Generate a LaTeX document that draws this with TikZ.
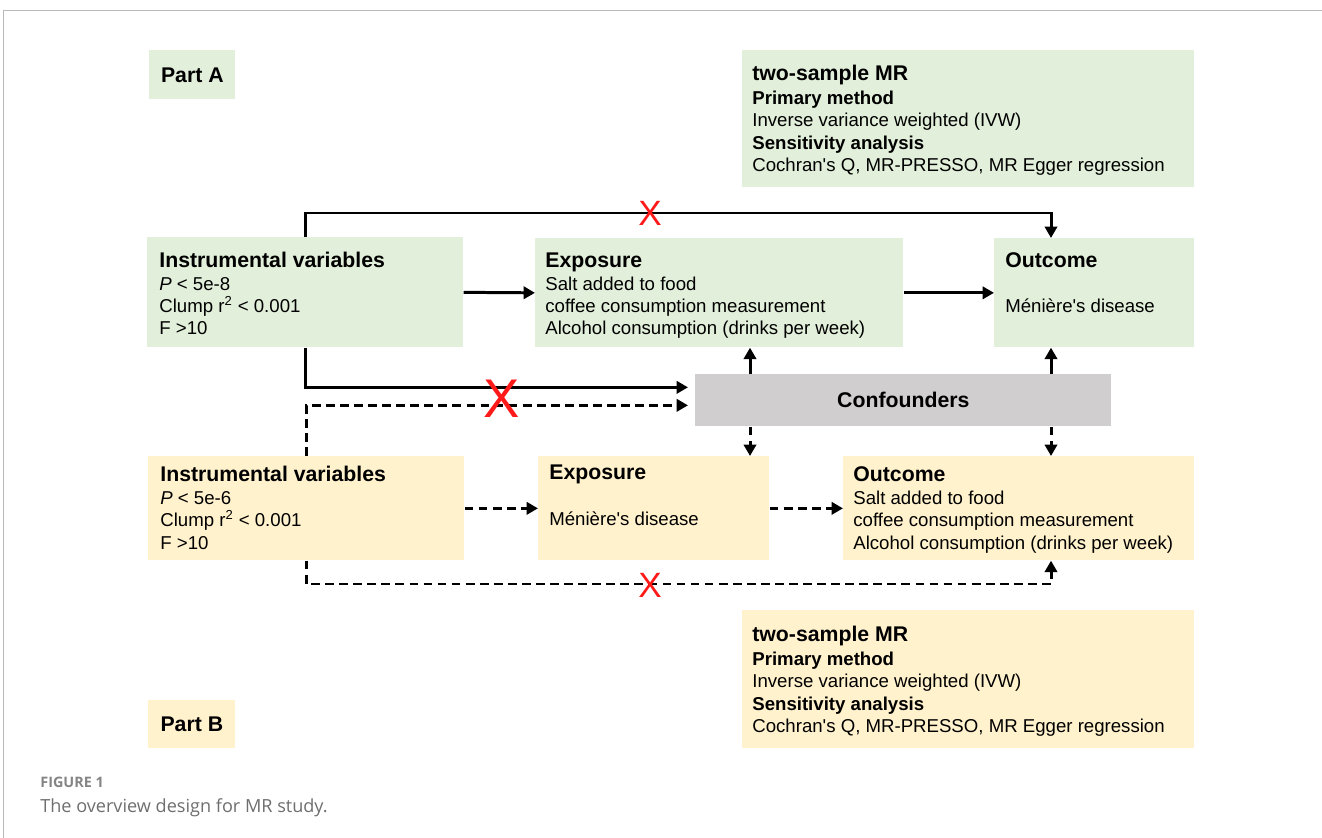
\documentclass[tikz,border=0pt]{standalone}
\usepackage{fontspec}
\setmainfont{Liberation Sans}[Ligatures=TeXOff]
\newfontfamily\captionfont{Open Sans}
\usetikzlibrary{arrows.meta,positioning}

\definecolor{partgreen}{HTML}{E2EFDA}
\definecolor{partyellow}{HTML}{FFF2CC}
\definecolor{confgray}{HTML}{D0CECE}
\definecolor{crossred}{HTML}{FF1A1A}
\definecolor{capgray}{HTML}{6E6E6E}

\tikzset{
  panel/.style={draw=none, inner sep=0pt, anchor=north west},
  greenpanel/.style={panel, fill=partgreen},
  yellowpanel/.style={panel, fill=partyellow},
  boxtitle/.style={anchor=base west, inner sep=0pt, font=\fontsize{12.1}{14}\selectfont\bfseries},
  boxhead/.style={anchor=base west, inner sep=0pt, font=\fontsize{10.6}{12.7}\selectfont\bfseries},
  boxline/.style={anchor=base west, inner sep=0pt, font=\fontsize{10.6}{12.7}\selectfont},
  link/.style={line width=1.7pt, -{Triangle[length=6.5pt,width=7pt]}},
  dashlink/.style={link, dash pattern=on 5pt off 3pt},
  cross/.style={inner sep=0pt, text=crossred}
}

\begin{document}
\begin{tikzpicture}[x=0.02cm, y=-0.02cm]
    \useasboundingbox (0,0) rectangle (1322,838);
    % page frame
    \draw[gray!55, line width=0.8pt] (3.5,838) -- (3.5,10.5) -- (1322,10.5);

    % part A
    \node[greenpanel, minimum width=1.72cm, minimum height=0.98cm,
      font=\fontsize{12.1}{14}\selectfont\bfseries] (partA) at (149,50) {Part A};
    \node[greenpanel, minimum width=9.04cm, minimum height=2.74cm] (mrA) at (742,50) {};
    \node[boxtitle] (mrAt) at (752,81) {two-sample MR};
    \node[boxhead] (mrAa) at (752,105) {Primary method};
    \node[boxline] (mrAb) at (752,127) {Inverse variance weighted (IVW)};
    \node[boxhead] (mrAc) at (752,150) {Sensitivity analysis};
    \node[boxline] (mrAd) at (752,172) {Cochran's Q, MR-PRESSO, MR Egger regression};

    \node[greenpanel, minimum width=6.32cm, minimum height=2.20cm] (ivA) at (147,237) {};
    \node[boxtitle] (ivAt) at (159,267) {Instrumental variables};
    \node[boxline] (ivAa) at (159,290) {\textit{P} < 5e-8};
    \node[boxline] (ivAb) at (159,312) {Clump r\textsuperscript{2} < 0.001};
    \node[boxline] (ivAc) at (159,334) {F >10};

    \node[greenpanel, minimum width=7.36cm, minimum height=2.18cm] (expA) at (535,238) {};
    \node[boxtitle] (expAt) at (545,267) {Exposure};
    \node[boxline] (expAa) at (545,290) {Salt added to food};
    \node[boxline] (expAb) at (545,312) {coffee consumption measurement};
    \node[boxline] (expAc) at (545,334) {Alcohol consumption (drinks per week)};

    \node[greenpanel, minimum width=4.00cm, minimum height=2.18cm] (outA) at (994,238) {};
    \node[boxtitle] (outAt) at (1005,267) {Outcome};
    \node[boxline] (outAa) at (1005,312) {Ménière's disease};

    % confounders
    \node[panel, fill=confgray, minimum width=8.32cm, minimum height=1.04cm,
      font=\fontsize{12.1}{14}\selectfont\bfseries] (conf) at (695,374) {Confounders};

    % part B
    \node[yellowpanel, minimum width=6.32cm, minimum height=2.08cm] (ivB) at (148,456) {};
    \node[boxtitle] (ivBt) at (160,481) {Instrumental variables};
    \node[boxline] (ivBa) at (160,504) {\textit{P} < 5e-6};
    \node[boxline] (ivBb) at (160,526) {Clump r\textsuperscript{2} < 0.001};
    \node[boxline] (ivBc) at (160,549) {F >10};

    \node[yellowpanel, minimum width=4.62cm, minimum height=2.08cm] (expB) at (538,456) {};
    \node[boxtitle] (expBt) at (549,479) {Exposure};
    \node[boxline] (expBa) at (549,525) {Ménière's disease};

    \node[yellowpanel, minimum width=7.02cm, minimum height=2.08cm] (outB) at (843,456) {};
    \node[boxtitle] (outBt) at (853,481) {Outcome};
    \node[boxline] (outBa) at (853,504) {Salt added to food};
    \node[boxline] (outBb) at (853,526) {coffee consumption measurement};
    \node[boxline] (outBc) at (853,549) {Alcohol consumption (drinks per week)};

    \node[yellowpanel, minimum width=9.04cm, minimum height=2.76cm] (mrB) at (742,610) {};
    \node[boxtitle] (mrBt) at (752,641) {two-sample MR};
    \node[boxhead] (mrBa) at (752,665) {Primary method};
    \node[boxline] (mrBb) at (752,687) {Inverse variance weighted (IVW)};
    \node[boxhead] (mrBc) at (752,710) {Sensitivity analysis};
    \node[boxline] (mrBd) at (752,732) {Cochran's Q, MR-PRESSO, MR Egger regression};

    \node[yellowpanel, minimum width=1.74cm, minimum height=0.96cm,
      font=\fontsize{12.1}{14}\selectfont\bfseries] (partB) at (148,700) {Part B};

    % helper coordinates for the bends
    \coordinate (topbar) at (0,213);
    \coordinate (botbar) at (0,584);
    \coordinate (colL) at (750,0);
    \coordinate (colR) at (1051,0);

    % solid links (part A)
    \draw[link] (ivA.north) -- (ivA.north |- topbar) -| (outA.north -| colR);
    \draw[link] (ivA.east) -- (expA.west);
    \draw[link] (expA.east) -- (outA.west);
    \draw[link] (ivA.south) |- ([shift={(-7,-13)}]conf.west);
    \draw[link] (conf.north -| colL) -- (expA.south -| colL);
    \draw[link] (conf.north -| colR) -- (outA.south -| colR);

    % dashed links (part B)
    \draw[dashlink] (ivB.north) |- ([shift={(-7,5)}]conf.west);
    \draw[dashlink] (conf.south -| colL) -- (expB.north -| colL);
    \draw[dashlink] (conf.south -| colR) -- (outB.north -| colR);
    \draw[dashlink] (ivB.east) -- (expB.west);
    \draw[dashlink] (expB.east) -- (outB.west);
    \draw[dashlink] (ivB.south) -- (ivB.south |- botbar) -| (outB.south -| colR);

    % crosses
    \node[cross, font=\fontsize{20}{20}\selectfont] (crossT) at (650,213) {X};
    \node[cross, font=\fontsize{31}{31}\selectfont] (crossM) at (502,399) {X};
    \node[cross, font=\fontsize{20}{20}\selectfont] (crossB) at (650,585) {X};

    % caption
    \node[anchor=base west, inner sep=0pt, text=capgray!85,
      font=\captionfont\fontsize{8.2}{10}\selectfont\bfseries] (figno) at (40,787) {FIGURE 1};
    \node[anchor=base west, inner sep=0pt, text=capgray,
      font=\captionfont\fontsize{10.3}{12}\selectfont] (figcap) at (40,812) {The overview design for MR study.};
\end{tikzpicture}
\end{document}
